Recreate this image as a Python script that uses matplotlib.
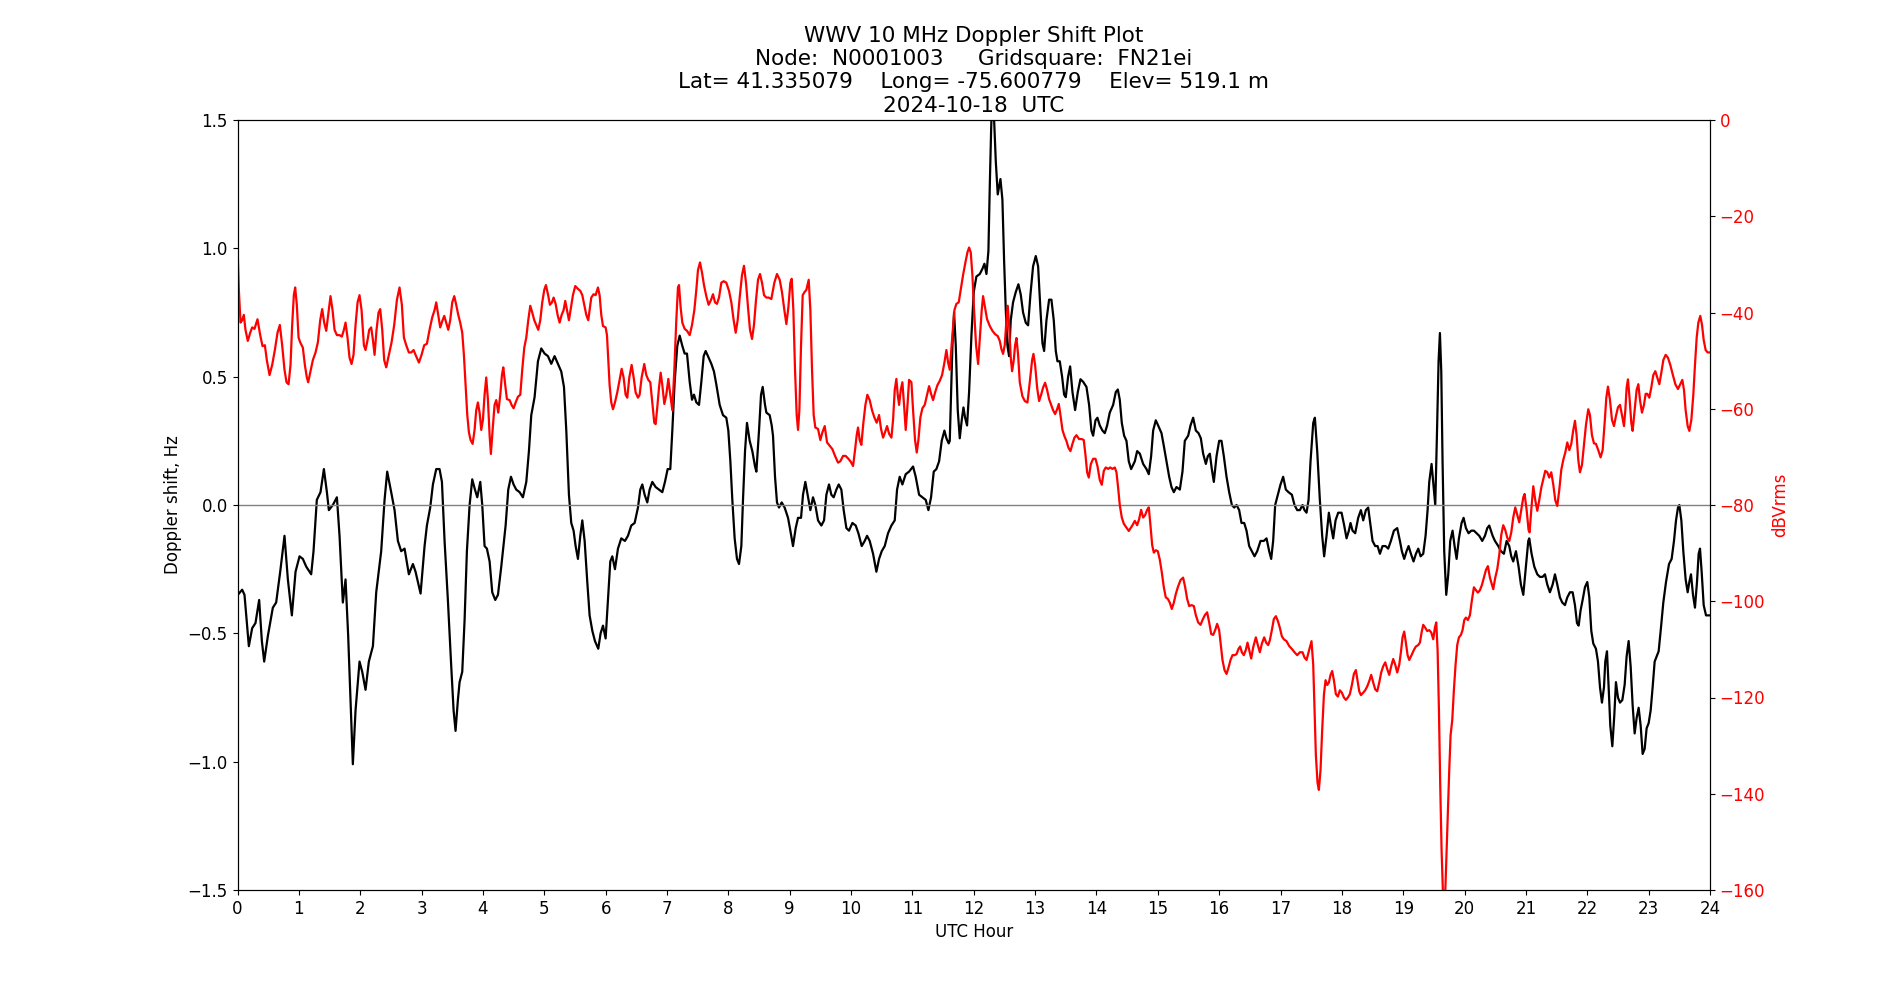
import numpy as np
import matplotlib
matplotlib.use("Agg")
import matplotlib.pyplot as plt

# ---- Doppler shift (black, left axis) ----
doppler_hours = [
    0.005, 0.076, 0.114, 0.185, 0.239, 0.293, 0.353, 0.397, 0.435, 0.495, 0.576, 0.630, 0.696, 0.766, 0.821,
    0.886, 0.946, 1.011, 1.065, 1.120, 1.201, 1.239, 1.293, 1.353, 1.408, 1.457, 1.489, 1.554, 1.620, 1.663,
    1.717, 1.761, 1.804, 1.848, 1.880, 1.924, 1.989, 2.033, 2.087, 2.141, 2.207, 2.261, 2.342, 2.397, 2.440,
    2.505, 2.560, 2.614, 2.668, 2.723, 2.793, 2.859, 2.902,
    2.984, 3.049, 3.087, 3.141, 3.185, 3.239, 3.293, 3.332, 3.375, 3.429, 3.484, 3.522, 3.554, 3.592, 3.620,
    3.663, 3.701, 3.739, 3.783, 3.826, 3.870, 3.908, 3.957, 3.989, 4.027, 4.065, 4.109, 4.152, 4.201, 4.245,
    4.299, 4.370, 4.413, 4.457, 4.500, 4.543, 4.598, 4.652, 4.707, 4.750, 4.788, 4.842, 4.897, 4.951, 5.005,
    5.060, 5.114, 5.168, 5.223, 5.277, 5.321, 5.359, 5.402, 5.440, 5.478, 5.511, 5.549, 5.587, 5.620, 5.658,
    5.701, 5.739, 5.783, 5.826,
    5.880, 5.918, 5.957, 6.000, 6.038, 6.076, 6.109, 6.152, 6.201, 6.255, 6.315, 6.364, 6.418, 6.473, 6.527,
    6.565, 6.598, 6.636, 6.679, 6.717, 6.761, 6.815, 6.870, 6.924, 6.967, 7.011, 7.054, 7.087, 7.125, 7.168,
    7.207, 7.250, 7.288, 7.326, 7.370, 7.408, 7.440, 7.478, 7.522, 7.560, 7.598, 7.630, 7.668, 7.723, 7.766,
    7.804, 7.859, 7.913, 7.967, 8.000, 8.033, 8.065, 8.103, 8.141, 8.174, 8.212, 8.239, 8.272, 8.304, 8.348,
    8.391, 8.435, 8.457, 8.500, 8.533, 8.560, 8.598, 8.620, 8.674, 8.707,
    8.728, 8.761, 8.793, 8.826, 8.870, 8.918, 8.973, 9.011, 9.054, 9.098, 9.136, 9.185, 9.217, 9.255, 9.293,
    9.337, 9.380, 9.418, 9.462, 9.516, 9.560, 9.598, 9.641, 9.679, 9.717, 9.761, 9.799, 9.842, 9.880, 9.924,
    9.967, 10.022, 10.076, 10.120, 10.174, 10.223, 10.261, 10.304, 10.359, 10.413, 10.457, 10.500, 10.549,
    10.603, 10.658, 10.712, 10.750, 10.793, 10.837, 10.891, 10.946, 11.011, 11.054, 11.109, 11.163, 11.217,
    11.261, 11.304, 11.348, 11.391, 11.435, 11.478, 11.522, 11.554, 11.592,
    11.609, 11.652, 11.679, 11.707, 11.739, 11.772, 11.804, 11.832, 11.859, 11.891, 11.924, 11.962, 12.000,
    12.043, 12.098, 12.141, 12.174, 12.207, 12.239, 12.261, 12.283, 12.304, 12.332, 12.359, 12.391, 12.435,
    12.467, 12.495, 12.522, 12.549, 12.576, 12.603, 12.641, 12.685, 12.728, 12.766, 12.804, 12.848, 12.886,
    12.924, 12.967, 13.011, 13.049, 13.087, 13.120, 13.147, 13.185, 13.228, 13.266, 13.304, 13.337, 13.364,
    13.402, 13.440, 13.473, 13.500, 13.538, 13.571, 13.609, 13.652, 13.696, 13.739, 13.783, 13.837, 13.880,
    13.918, 13.946, 13.984, 14.016, 14.054, 14.098, 14.136, 14.174, 14.217, 14.272, 14.315, 14.348, 14.380,
    14.413, 14.451, 14.489, 14.527, 14.565,
    14.625, 14.663, 14.707, 14.761, 14.815, 14.853, 14.891, 14.924, 14.967, 15.005, 15.060, 15.098, 15.141,
    15.185, 15.223, 15.261, 15.304, 15.359, 15.402, 15.440, 15.495, 15.533, 15.576, 15.620, 15.663, 15.701,
    15.739, 15.783, 15.815, 15.848, 15.880, 15.913, 15.957, 16.000, 16.038, 16.076, 16.120, 16.163, 16.207,
    16.245, 16.283, 16.326, 16.364, 16.408, 16.446, 16.489, 16.533, 16.576, 16.620, 16.674, 16.728, 16.772,
    16.815, 16.848, 16.880, 16.913, 16.957, 17.000, 17.043, 17.087, 17.130, 17.185, 17.228, 17.272, 17.315,
    17.359, 17.391, 17.424, 17.457, 17.489, 17.533,
    17.560, 17.598, 17.641, 17.679, 17.711, 17.750, 17.788, 17.821, 17.859, 17.897, 17.940, 17.995, 18.038,
    18.076, 18.114, 18.141, 18.174, 18.217, 18.266, 18.310, 18.348, 18.391, 18.429, 18.467, 18.500, 18.543,
    18.582, 18.620, 18.663, 18.712, 18.755, 18.799, 18.848, 18.902, 18.946, 18.978, 19.016, 19.054, 19.087,
    19.125, 19.168, 19.207, 19.245, 19.283, 19.326, 19.364, 19.397, 19.424, 19.462, 19.500, 19.522, 19.549,
    19.576, 19.598, 19.620, 19.641, 19.668, 19.701, 19.734, 19.766, 19.804, 19.837, 19.870, 19.908, 19.951,
    19.984, 20.022, 20.065, 20.109, 20.152, 20.196, 20.239, 20.288, 20.332, 20.370, 20.402,
    20.457, 20.495, 20.549, 20.592, 20.641, 20.685, 20.728, 20.761, 20.793, 20.837, 20.880, 20.918, 20.957,
    21.000, 21.038, 21.054, 21.092, 21.136, 21.185, 21.228, 21.272, 21.310, 21.348, 21.391, 21.435, 21.473,
    21.511, 21.554, 21.592, 21.636, 21.674, 21.717, 21.761, 21.799, 21.832, 21.859, 21.891, 21.924, 21.962,
    22.000, 22.033, 22.065, 22.098, 22.141, 22.174, 22.207, 22.239, 22.272, 22.293, 22.321, 22.348, 22.375,
    22.408, 22.440, 22.467, 22.500, 22.533, 22.571, 22.609, 22.641, 22.674, 22.707, 22.739, 22.772, 22.804,
    22.837, 22.870, 22.902, 22.935, 22.967, 23.000, 23.033, 23.065, 23.098, 23.130, 23.163, 23.196, 23.239,
    23.283, 23.332, 23.375, 23.413, 23.446, 23.478, 23.500, 23.533, 23.565, 23.603, 23.636, 23.663, 23.690,
    23.723, 23.755, 23.788, 23.815, 23.837, 23.864, 23.897, 23.935, 24.000,
]
doppler_hz = [
    -0.35, -0.33, -0.35, -0.55, -0.48, -0.46, -0.37, -0.53, -0.61, -0.51, -0.40, -0.38, -0.26, -0.12, -0.29,
    -0.43, -0.26, -0.20, -0.21, -0.24, -0.27, -0.18, 0.02, 0.05, 0.14, 0.05, -0.02, 0.00, 0.03, -0.12,
    -0.38, -0.29, -0.51, -0.80, -1.01, -0.80, -0.61, -0.65, -0.72, -0.61, -0.55, -0.34, -0.18, 0.02, 0.13,
    0.05, -0.02, -0.14, -0.18, -0.17, -0.27, -0.23, -0.26,
    -0.345, -0.16, -0.08, -0.01, 0.08, 0.14, 0.14, 0.09, -0.14, -0.37, -0.63, -0.80, -0.88, -0.76, -0.69,
    -0.65, -0.45, -0.18, 0.00, 0.10, 0.06, 0.03, 0.09, 0.00, -0.16, -0.17, -0.22, -0.34, -0.37, -0.35,
    -0.24, -0.08, 0.06, 0.11, 0.08, 0.06, 0.05, 0.03, 0.09, 0.21, 0.35, 0.42, 0.56, 0.61, 0.59,
    0.58, 0.55, 0.58, 0.55, 0.52, 0.46, 0.29, 0.04, -0.07, -0.10, -0.16, -0.21, -0.12, -0.06, -0.14,
    -0.30, -0.43, -0.49, -0.53,
    -0.56, -0.50, -0.47, -0.52, -0.37, -0.22, -0.20, -0.25, -0.17, -0.13, -0.14, -0.12, -0.08, -0.07, -0.01,
    0.06, 0.08, 0.04, 0.01, 0.06, 0.09, 0.07, 0.06, 0.05, 0.09, 0.14, 0.14, 0.29, 0.48, 0.62,
    0.66, 0.62, 0.59, 0.59, 0.48, 0.41, 0.43, 0.40, 0.39, 0.48, 0.58, 0.60, 0.58, 0.55, 0.52,
    0.47, 0.39, 0.35, 0.34, 0.29, 0.17, 0.02, -0.13, -0.21, -0.23, -0.16, 0.02, 0.21, 0.32, 0.25,
    0.21, 0.15, 0.13, 0.29, 0.43, 0.46, 0.39, 0.36, 0.35, 0.31,
    0.27, 0.11, 0.01, -0.01, 0.01, -0.01, -0.05, -0.10, -0.16, -0.09, -0.05, -0.05, 0.04, 0.09, 0.04,
    -0.02, 0.03, 0.00, -0.06, -0.08, -0.06, 0.04, 0.08, 0.04, 0.03, 0.06, 0.08, 0.06, -0.02, -0.09,
    -0.10, -0.07, -0.08, -0.11, -0.16, -0.14, -0.12, -0.14, -0.19, -0.26, -0.21, -0.18, -0.16,
    -0.11, -0.08, -0.06, 0.06, 0.11, 0.08, 0.12, 0.13, 0.15, 0.11, 0.04, 0.03, 0.02,
    -0.02, 0.03, 0.13, 0.14, 0.17, 0.25, 0.29, 0.26, 0.24,
    0.25, 0.62, 0.75, 0.62, 0.37, 0.26, 0.33, 0.38, 0.34, 0.31, 0.44, 0.66, 0.83,
    0.89, 0.90, 0.92, 0.94, 0.90, 0.99, 1.24, 1.46, 1.62, 1.50, 1.34, 1.21, 1.27,
    1.19, 0.95, 0.76, 0.62, 0.58, 0.72, 0.79, 0.83, 0.86, 0.82, 0.75, 0.71, 0.70,
    0.82, 0.93, 0.97, 0.93, 0.76, 0.63, 0.60, 0.72, 0.80, 0.80, 0.72, 0.60, 0.56,
    0.56, 0.50, 0.43, 0.42, 0.50, 0.54, 0.44, 0.37, 0.44, 0.49, 0.48, 0.46, 0.39,
    0.29, 0.27, 0.33, 0.34, 0.31, 0.29, 0.28, 0.31, 0.36, 0.39, 0.44, 0.45, 0.41,
    0.32, 0.27, 0.25, 0.17, 0.14,
    0.17, 0.21, 0.20, 0.16, 0.14, 0.12, 0.19, 0.29, 0.33, 0.31, 0.28, 0.23, 0.17,
    0.11, 0.07, 0.05, 0.07, 0.06, 0.13, 0.25, 0.27, 0.31, 0.34, 0.29, 0.28, 0.26,
    0.20, 0.16, 0.19, 0.20, 0.14, 0.09, 0.19, 0.25, 0.25, 0.19, 0.11, 0.05, 0.00,
    -0.01, 0.00, -0.02, -0.07, -0.07, -0.10, -0.16, -0.18, -0.20, -0.18, -0.14, -0.14, -0.13,
    -0.18, -0.21, -0.14, 0.00, 0.04, 0.08, 0.11, 0.06, 0.05, 0.04, 0.00, -0.02, -0.02,
    0.00, -0.02, -0.03, 0.02, 0.17, 0.32,
    0.34, 0.21, 0.02, -0.12, -0.20, -0.12, -0.03, -0.08, -0.13, -0.06, -0.03, -0.03, -0.08,
    -0.13, -0.10, -0.07, -0.10, -0.11, -0.05, -0.02, -0.06, -0.02, -0.01, -0.08, -0.14, -0.16,
    -0.16, -0.19, -0.16, -0.16, -0.17, -0.14, -0.10, -0.09, -0.14, -0.18, -0.21, -0.18, -0.16,
    -0.19, -0.22, -0.19, -0.17, -0.20, -0.19, -0.12, -0.02, 0.09, 0.16, 0.06, 0.00, 0.27,
    0.56, 0.67, 0.52, 0.17, -0.18, -0.35, -0.27, -0.14, -0.10, -0.16, -0.21, -0.13, -0.07,
    -0.05, -0.09, -0.11, -0.10, -0.10, -0.11, -0.12, -0.14, -0.12, -0.09, -0.08,
    -0.12, -0.14, -0.16, -0.18, -0.19, -0.14, -0.16, -0.20, -0.22, -0.18, -0.24, -0.31, -0.35,
    -0.24, -0.14, -0.13, -0.19, -0.24, -0.27, -0.28, -0.28, -0.27, -0.31, -0.34, -0.31, -0.27,
    -0.31, -0.36, -0.38, -0.39, -0.36, -0.34, -0.34, -0.39, -0.46, -0.47, -0.41, -0.37, -0.32,
    -0.30, -0.36, -0.49, -0.54, -0.56, -0.61, -0.71, -0.77, -0.71, -0.61, -0.57, -0.71, -0.86,
    -0.94, -0.82, -0.69, -0.75, -0.77, -0.76, -0.70, -0.59, -0.53, -0.63, -0.78, -0.89, -0.83,
    -0.79, -0.86, -0.97, -0.95, -0.87, -0.85, -0.80, -0.71, -0.61, -0.59, -0.57, -0.49, -0.38,
    -0.30, -0.23, -0.21, -0.14, -0.06, -0.01, 0.00, -0.06, -0.18, -0.29, -0.34, -0.30, -0.27,
    -0.35, -0.40, -0.30, -0.19, -0.17, -0.26, -0.39, -0.43, -0.43,
]

# ---- Signal level (red, right axis) ----
power_hours = [
    0.005, 0.022, 0.049, 0.076, 0.103, 0.130, 0.168, 0.207, 0.239, 0.277, 0.326, 0.370, 0.408, 0.446, 0.478,
    0.522, 0.565, 0.609, 0.652, 0.690, 0.728, 0.766, 0.799, 0.832, 0.864, 0.891, 0.918, 0.940, 0.967, 0.995,
    1.022, 1.065, 1.098, 1.130, 1.152, 1.185, 1.228, 1.272, 1.310, 1.348, 1.380, 1.413, 1.446, 1.478, 1.516,
    1.549, 1.582, 1.620, 1.663, 1.701, 1.734, 1.761, 1.793, 1.826, 1.859, 1.891, 1.924, 1.957, 1.989, 2.022,
    2.060, 2.087, 2.120, 2.147, 2.179, 2.207, 2.234, 2.266, 2.299, 2.326, 2.359, 2.391, 2.424, 2.467, 2.511,
    2.554, 2.598, 2.641, 2.679, 2.712, 2.750, 2.793, 2.832, 2.870, 2.902,
    2.957, 3.000, 3.043, 3.087, 3.130, 3.174, 3.212, 3.239, 3.272, 3.304, 3.337, 3.370, 3.402, 3.435, 3.467,
    3.500, 3.533, 3.565, 3.598, 3.630, 3.663, 3.690, 3.717, 3.745, 3.772, 3.799, 3.832, 3.864, 3.891, 3.918,
    3.946, 3.973, 4.000, 4.027, 4.054, 4.082, 4.109, 4.130, 4.158, 4.190, 4.217, 4.250, 4.283, 4.310, 4.332,
    4.364, 4.391, 4.435, 4.467, 4.500, 4.533, 4.571, 4.609, 4.641, 4.674, 4.707, 4.739, 4.772, 4.804, 4.837,
    4.870, 4.902, 4.935, 4.967, 5.000, 5.027, 5.060, 5.092, 5.125, 5.152, 5.185, 5.217, 5.250, 5.283, 5.315,
    5.342, 5.370, 5.402, 5.435, 5.467, 5.505, 5.549, 5.587, 5.620, 5.652, 5.685, 5.717,
    5.766, 5.804, 5.837, 5.875, 5.902, 5.929, 5.957, 6.000, 6.022, 6.043, 6.065, 6.092, 6.120, 6.152, 6.190,
    6.228, 6.261, 6.293, 6.326, 6.353, 6.386, 6.424, 6.457, 6.489, 6.527, 6.554, 6.587, 6.630, 6.663, 6.696,
    6.728, 6.761, 6.793, 6.815, 6.842, 6.870, 6.897, 6.924, 6.957, 6.989, 7.022, 7.054, 7.087, 7.120, 7.152,
    7.179, 7.196, 7.223, 7.250, 7.288, 7.326, 7.370, 7.408, 7.446, 7.478, 7.505, 7.538, 7.571, 7.603, 7.641,
    7.679, 7.717, 7.750, 7.783, 7.815, 7.848, 7.886, 7.924, 7.967, 8.011, 8.049, 8.087, 8.120, 8.152, 8.185,
    8.223, 8.255, 8.288, 8.321, 8.353, 8.386, 8.418, 8.451, 8.484, 8.516, 8.549, 8.582, 8.620, 8.658, 8.701,
    8.750, 8.793, 8.837, 8.875, 8.913, 8.946, 8.978, 9.011, 9.033, 9.060, 9.087, 9.114, 9.136, 9.158, 9.185,
    9.212, 9.239, 9.272, 9.310, 9.337, 9.364, 9.391, 9.418, 9.462, 9.500, 9.533, 9.571, 9.609, 9.652, 9.696,
    9.739, 9.788, 9.826, 9.870, 9.913, 9.957, 9.995, 10.033, 10.065, 10.092, 10.114, 10.141, 10.168, 10.201,
    10.234, 10.266, 10.304, 10.342, 10.380, 10.418, 10.457, 10.489, 10.522, 10.554, 10.587, 10.620, 10.658,
    10.685, 10.712, 10.739, 10.761, 10.783, 10.810, 10.837, 10.864, 10.891, 10.918, 10.946, 10.984, 11.011,
    11.043, 11.071, 11.098, 11.130, 11.163, 11.201, 11.239, 11.272, 11.304, 11.337, 11.370, 11.408, 11.446,
    11.484, 11.522, 11.554, 11.582,
    11.609, 11.652, 11.685, 11.717, 11.755, 11.788, 11.826, 11.864, 11.897, 11.924, 11.951, 11.978, 12.005,
    12.038, 12.071, 12.098, 12.130, 12.152, 12.185, 12.217, 12.261, 12.304, 12.348, 12.391, 12.424, 12.451,
    12.478, 12.505, 12.533, 12.554, 12.576, 12.603, 12.625, 12.652, 12.674, 12.696, 12.723, 12.750, 12.793,
    12.832, 12.875, 12.913, 12.951, 12.973, 13.000, 13.033, 13.065, 13.098, 13.130, 13.163, 13.196, 13.228,
    13.261, 13.293, 13.326, 13.359, 13.386, 13.413, 13.446, 13.478, 13.511, 13.543, 13.576, 13.609, 13.641,
    13.674, 13.717, 13.761, 13.793, 13.821, 13.848, 13.875, 13.908, 13.946, 13.984, 14.016, 14.054, 14.087,
    14.120, 14.152, 14.190, 14.223, 14.261, 14.299, 14.326, 14.353, 14.380, 14.413, 14.446, 14.489, 14.527,
    14.587, 14.625, 14.663, 14.696, 14.728, 14.761, 14.793, 14.826, 14.853, 14.880, 14.908, 14.935, 14.967,
    15.000, 15.033, 15.065, 15.098, 15.130, 15.163, 15.196, 15.228, 15.261, 15.293, 15.326, 15.370, 15.413,
    15.446, 15.478, 15.511, 15.549, 15.587, 15.620, 15.658, 15.696, 15.728, 15.766, 15.804, 15.837, 15.870,
    15.902, 15.935, 15.967, 16.000, 16.027, 16.054, 16.087, 16.120, 16.152, 16.185, 16.217, 16.250, 16.283,
    16.315, 16.342, 16.370, 16.402, 16.435, 16.462, 16.489, 16.522, 16.554, 16.598, 16.630, 16.663, 16.696,
    16.734, 16.766, 16.799, 16.826, 16.859, 16.891, 16.924, 16.957, 16.989, 17.022, 17.054, 17.098, 17.141,
    17.185, 17.228, 17.272, 17.315, 17.359, 17.391, 17.424, 17.457,
    17.505, 17.533, 17.554, 17.576, 17.603, 17.625, 17.652, 17.679, 17.707, 17.734, 17.761, 17.788, 17.815,
    17.842, 17.870, 17.902, 17.935, 17.967, 18.000, 18.033, 18.065, 18.098, 18.130, 18.163, 18.196, 18.228,
    18.255, 18.283, 18.310, 18.348, 18.380, 18.413, 18.446, 18.478, 18.511, 18.543, 18.576, 18.609, 18.641,
    18.674, 18.707, 18.739, 18.772, 18.804, 18.837, 18.870, 18.902, 18.935, 18.962, 18.989, 19.016, 19.043,
    19.071, 19.098, 19.136, 19.174, 19.207, 19.245, 19.272, 19.299, 19.326, 19.359, 19.391, 19.424, 19.457,
    19.489, 19.516, 19.538, 19.560, 19.582, 19.603, 19.625, 19.647, 19.663, 19.685, 19.707, 19.728, 19.750,
    19.772, 19.799, 19.826, 19.853, 19.880, 19.908, 19.940, 19.967, 19.995, 20.022, 20.054, 20.087, 20.120,
    20.152, 20.185, 20.217, 20.250, 20.283, 20.315, 20.348, 20.380, 20.413,
    20.467, 20.500, 20.533, 20.565, 20.598, 20.630, 20.663, 20.696, 20.728, 20.761, 20.793, 20.826, 20.859,
    20.891, 20.924, 20.957, 20.978, 21.011, 21.043, 21.060, 21.087, 21.120, 21.152, 21.185, 21.217, 21.250,
    21.283, 21.315, 21.348, 21.380, 21.413, 21.446, 21.478, 21.511, 21.543, 21.576, 21.609, 21.641, 21.674,
    21.707, 21.739, 21.772, 21.799, 21.826, 21.853, 21.880, 21.913, 21.946, 21.978, 22.016, 22.043, 22.076,
    22.109, 22.141, 22.179, 22.217, 22.250, 22.283, 22.310, 22.337, 22.370, 22.402, 22.435, 22.467, 22.500,
    22.533, 22.565, 22.598, 22.620, 22.641, 22.663, 22.690, 22.717, 22.739, 22.772, 22.804, 22.832, 22.859,
    22.891, 22.924, 22.951, 22.978, 23.011, 23.043, 23.076, 23.109, 23.141, 23.174, 23.207, 23.239, 23.277,
    23.315, 23.353, 23.391, 23.435, 23.478, 23.516, 23.549, 23.576, 23.603, 23.636, 23.663, 23.696, 23.728,
    23.755, 23.783, 23.810, 23.842, 23.870, 23.897, 23.929, 23.962, 24.000,
]
power_db = [
    -28.1, -35.3, -42.1, -41.6, -40.5, -43.6, -45.9, -44.2, -43.1, -43.4, -41.4, -44.7, -47.0, -46.8, -49.9,
    -53.0, -50.9, -47.8, -44.2, -42.6, -46.8, -51.9, -54.5, -54.9, -50.9, -42.6, -36.4, -34.8, -38.4, -45.2,
    -46.2, -47.3, -50.9, -53.5, -54.5, -52.5, -49.9, -48.3, -46.2, -41.6, -39.3, -42.1, -43.8, -40.5, -36.6,
    -39.5, -43.6, -44.7, -44.7, -45.0, -43.6, -42.1, -45.2, -49.4, -50.7, -48.8, -42.6, -37.9, -36.4, -39.5,
    -46.8, -47.8, -45.7, -43.6, -43.1, -45.7, -48.8, -43.6, -40.0, -39.3, -43.6, -49.9, -51.4, -48.8, -46.2,
    -42.6, -37.4, -34.8, -38.4, -45.2, -46.8, -48.3, -48.3, -47.8, -48.8,
    -50.4, -48.8, -46.8, -46.5, -43.6, -41.0, -39.5, -37.9, -40.5, -43.1, -41.8, -40.7, -42.1, -43.6, -41.6,
    -37.9, -36.6, -38.4, -40.5, -42.1, -44.2, -48.8, -55.1, -61.3, -64.9, -66.5, -67.3, -64.4, -60.3, -58.7,
    -60.8, -64.4, -62.3, -57.1, -53.5, -58.2, -65.5, -69.4, -64.4, -59.2, -58.2, -60.8, -57.1, -53.0, -51.4,
    -55.1, -58.0, -58.2, -59.2, -59.9, -58.7, -57.5, -57.1, -51.9, -47.3, -45.2, -41.6, -38.6, -40.0, -41.6,
    -42.6, -43.6, -41.6, -37.9, -35.3, -34.3, -36.2, -38.4, -37.9, -36.9, -38.2, -40.5, -42.1, -40.5, -39.5,
    -37.6, -39.5, -41.6, -39.0, -36.4, -34.5, -35.1, -35.5, -36.4, -38.4, -40.5, -41.6,
    -36.9, -36.2, -36.4, -34.8, -36.4, -40.5, -42.8, -43.1, -44.7, -49.9, -55.1, -58.7, -60.1, -58.7, -56.6,
    -54.0, -51.7, -53.5, -57.1, -57.7, -53.5, -50.9, -53.5, -56.6, -57.7, -57.1, -53.5, -50.7, -53.0, -54.0,
    -54.5, -58.7, -62.9, -63.2, -59.7, -55.6, -52.5, -55.1, -59.0, -57.1, -53.8, -57.1, -60.3, -51.9, -41.6,
    -34.8, -34.3, -39.0, -42.1, -43.4, -43.8, -44.7, -42.6, -39.5, -35.3, -31.2, -29.6, -31.7, -34.3, -36.6,
    -38.4, -37.4, -36.2, -37.9, -38.2, -36.9, -33.8, -33.5, -33.8, -35.5, -37.9, -41.6, -44.2, -41.6, -36.9,
    -32.2, -30.3, -33.8, -39.0, -43.6, -45.5, -42.6, -37.4, -33.2, -32.0, -33.8, -36.4, -36.9, -36.9, -37.2,
    -33.8, -32.0, -33.2, -35.8, -39.5, -42.4, -39.0, -33.8, -33.0, -39.5, -51.9, -61.3, -64.4, -60.3, -46.8,
    -36.4, -35.8, -35.3, -33.2, -39.5, -51.9, -61.3, -63.9, -64.2, -66.5, -64.9, -63.6, -67.0, -67.7, -68.4,
    -69.8, -71.2, -70.9, -69.8, -69.8, -70.4, -71.0, -71.9, -68.6, -65.5, -63.9, -66.5, -67.5, -62.9,
    -59.2, -57.1, -58.2, -60.3, -61.8, -62.9, -61.3, -64.2, -66.0, -64.9, -63.6, -65.2, -66.0,
    -62.3, -56.1, -53.8, -57.1, -59.2, -56.1, -54.5, -59.2, -64.4, -59.7, -54.0, -54.5, -60.3,
    -66.5, -69.1, -66.5, -61.8, -59.9, -59.2, -57.1, -55.3, -56.9, -58.2, -56.6, -55.1, -54.2,
    -53.0, -50.4, -47.8, -50.4,
    -51.9, -44.7, -39.5, -38.2, -37.9, -35.3, -32.2, -29.6, -27.5, -26.5, -27.5, -32.2, -39.5,
    -46.8, -50.7, -45.7, -39.5, -36.6, -39.0, -41.4, -42.8, -43.8, -44.5, -44.9, -45.9, -47.6,
    -48.6, -46.8, -41.6, -38.6, -42.6, -49.4, -52.2, -49.9, -46.8, -45.3, -48.8, -54.5, -57.4,
    -58.4, -58.7, -54.5, -49.9, -48.6, -50.9, -55.6, -58.4, -57.1, -55.6, -54.6, -56.1, -58.0,
    -59.2, -60.3, -61.1, -60.1, -59.0, -61.3, -64.4, -65.7, -66.7, -68.1, -68.8, -67.3, -66.0,
    -65.5, -66.3, -66.3, -66.5, -69.6, -73.2, -74.3, -71.5, -70.4, -70.4, -71.9, -74.8, -75.8,
    -72.9, -72.2, -72.5, -72.2, -72.5, -72.2, -73.2, -76.4, -80.0, -82.6, -83.9, -84.7, -85.4,
    -84.2, -83.3, -84.2, -82.9, -81.0, -82.6, -82.1, -81.0, -80.5, -84.2, -88.3, -89.9, -89.4,
    -89.6, -91.4, -94.0, -97.1, -99.2, -99.5, -100.3, -101.6, -100.3, -98.5, -97.1, -95.6, -95.1,
    -97.1, -99.5, -101.0, -100.8, -101.0, -102.9, -104.4, -104.9, -103.9, -102.9, -102.3, -104.4, -106.8,
    -107.0, -106.0, -104.7, -106.0, -109.1, -112.2, -114.3, -115.1, -113.8, -112.2, -111.2, -111.2, -111.0,
    -109.9, -109.4, -110.6, -111.2, -110.1, -108.6, -110.1, -111.9, -109.6, -107.5, -109.1, -110.6, -108.8,
    -107.5, -108.6, -109.1, -108.1, -106.0, -103.7, -103.1, -104.1, -105.5, -107.3, -107.9, -108.3, -109.3,
    -109.9, -110.6, -111.2, -110.6, -110.6, -111.7, -112.2, -110.6,
    -108.3, -113.2, -122.6, -131.9, -137.7, -139.2, -135.1, -126.8, -119.5, -116.4, -117.4, -116.9, -115.3,
    -114.5, -116.4, -119.3, -119.8, -118.5, -119.0, -120.0, -120.5, -120.0, -119.3, -117.4, -115.1, -114.3,
    -116.4, -118.7, -119.5, -119.0, -118.5, -117.7, -116.6, -115.3, -116.9, -118.3, -118.7, -116.9, -114.8,
    -113.5, -112.7, -114.1, -115.3, -113.5, -112.0, -113.2, -114.8, -113.2, -110.6, -107.5, -106.3, -108.6,
    -111.2, -112.2, -111.2, -110.1, -109.4, -109.1, -108.6, -106.5, -104.9, -105.5, -106.2, -106.0, -106.5,
    -107.9, -105.5, -104.4, -110.1, -122.6, -138.2, -151.7, -160.5, -166.0, -160.5, -151.7, -143.4, -135.1,
    -127.8, -124.7, -118.4, -113.2, -109.1, -107.5, -107.0, -106.0, -103.9, -103.4, -103.9, -102.9, -99.7,
    -97.1, -97.7, -98.2, -97.7, -96.6, -95.1, -93.5, -92.7, -95.1,
    -97.5, -95.1, -93.3, -90.4, -86.2, -84.2, -85.2, -86.8, -87.5, -85.7, -82.6, -80.5, -82.1,
    -83.6, -81.0, -78.4, -77.7, -81.0, -85.2, -85.7, -81.0, -76.1, -79.0, -81.2, -79.0, -76.4,
    -74.6, -72.9, -73.2, -74.3, -73.2, -75.8, -79.0, -80.2, -76.9, -72.7, -70.6, -69.1, -67.0,
    -68.6, -67.3, -64.4, -62.5, -65.5, -70.6, -73.2, -71.7, -67.5, -63.4, -60.1, -61.3, -65.5,
    -67.2, -67.3, -68.6, -70.1, -68.6, -62.9, -57.7, -55.4, -58.2, -62.3, -63.6, -61.5, -59.7,
    -59.2, -61.3, -63.6, -60.3, -55.6, -53.9, -58.0, -62.9, -64.6, -60.3, -56.1, -54.9, -58.2,
    -60.8, -59.2, -56.9, -56.9, -57.7, -55.6, -53.0, -52.2, -53.5, -54.9, -52.5, -49.9, -48.8,
    -49.4, -50.9, -52.8, -54.9, -55.9, -54.9, -54.0, -56.1, -60.3, -63.6, -64.6, -62.3, -57.1,
    -50.9, -45.2, -42.1, -40.7, -42.6, -45.7, -47.8, -48.3, -48.3,
]

hour_ticks = list(range(0, 25))
doppler_ticks = [-1.5, -1.0, -0.5, 0.0, 0.5, 1.0, 1.5]
db_ticks = [-160, -140, -120, -100, -80, -60, -40, -20, 0]

title_text = ("WWV 10 MHz Doppler Shift Plot\n"
              "Node:  N0001003     Gridsquare:  FN21ei\n"
              "Lat= 41.335079    Long= -75.600779    Elev= 519.1 m\n"
              "2024-10-18  UTC")

fig, ax = plt.subplots(figsize=(19, 10), dpi=100)
ax.plot(doppler_hours, doppler_hz, color="black", linewidth=1.6)
ax.axhline(0, color="grey", linewidth=1)
ax.set_xlim(0, 24)
ax.set_ylim(-1.5, 1.5)
ax.set_xticks(hour_ticks)
ax.set_yticks(doppler_ticks)
ax.tick_params(labelsize=12)
ax.set_xlabel("UTC Hour", fontsize=12)
ax.set_ylabel("Doppler shift, Hz", fontsize=12)
ax.set_title(title_text, fontsize=15.5)

ax2 = ax.twinx()
ax2.plot(power_hours, power_db, color="red", linewidth=1.6)
ax2.set_ylim(-160, 0)
ax2.set_yticks(db_ticks)
ax2.tick_params(axis="y", labelsize=12, labelcolor="red")
ax2.set_ylabel("dBVrms", fontsize=12, color="red")

fig.savefig("out.png", dpi=100)
